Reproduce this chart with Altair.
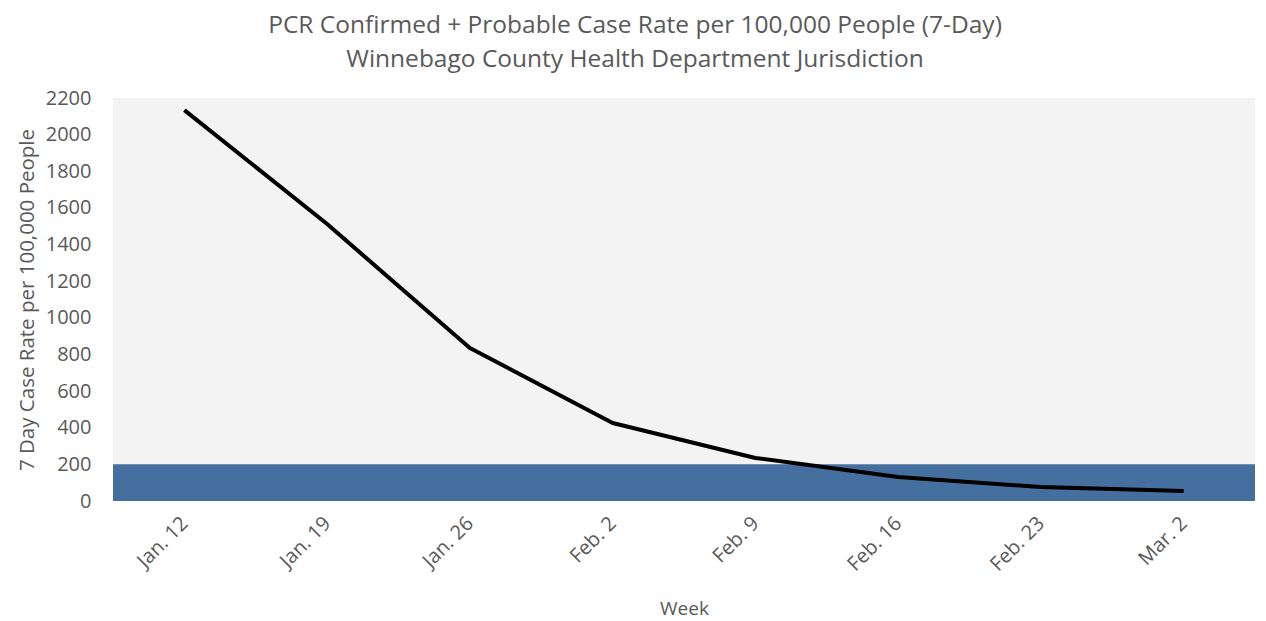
import altair as alt
import pandas as pd

weeks = ["Jan. 12", "Jan. 19", "Jan. 26", "Feb. 2", "Feb. 9", "Feb. 16", "Feb. 23", "Mar. 2"]
rates = [2134, 1512, 835, 426, 235, 131, 76, 55]
band_low = [0]
band_high = [200]
y_ticks = list(range(0, 2201, 200))

W, H = 1142, 403
FONT = "Open Sans"
GRAY = "#595959"

df = pd.DataFrame({"Week": weeks, "Rate": rates})
band_df = pd.DataFrame({"lo": band_low, "hi": band_high})

yscale = alt.Scale(domain=[0, 2200], nice=False)
yaxis = alt.Axis(values=y_ticks, format="d", labelOverlap=False, ticks=False,
                 domain=False, grid=False,
                 labelFontSize=20, titleFontSize=20.5, labelPadding=22, titlePadding=8,
                 labelFont=FONT, titleFont=FONT, labelColor=GRAY, titleColor=GRAY,
                 titleFontWeight="normal")
ytitle = "7 Day Case Rate per 100,000 People"

band = alt.Chart(band_df).mark_rect(color="#456F9F").encode(
    x=alt.value(0),
    x2=alt.value(W),
    y=alt.Y("lo:Q", scale=yscale, title=ytitle, axis=yaxis),
    y2="hi:Q",
)

line = alt.Chart(df).mark_line(color="black", strokeWidth=4, strokeJoin="round").encode(
    x=alt.X("Week:O", sort=weeks, title="Week",
            axis=alt.Axis(labelAngle=-45, labelAlign="right", labelBaseline="middle",
                          labelPadding=19, ticks=False, domain=False, labelOverlap=False,
                          labelFontSize=20, titleFontSize=19, titlePadding=25,
                          labelFont=FONT, titleFont=FONT, labelColor=GRAY, titleColor=GRAY,
                          titleFontWeight="normal")),
    y=alt.Y("Rate:Q", scale=yscale, title=ytitle, axis=yaxis),
)

chart = alt.layer(band, line).properties(
    width=W, height=H,
    autosize=alt.AutoSizeParams(type="none"),
    padding={"left": 105, "top": 90, "right": 3, "bottom": 120},
    title=alt.TitleParams(
        text=["PCR Confirmed + Probable Case Rate per 100,000 People (7-Day)",
              "Winnebago County Health Department Jurisdiction"],
        fontSize=24.5, font=FONT, color=GRAY, fontWeight="normal",
        anchor="middle", frame="group", dx=-49, offset=16, lineHeight=34,
    ),
).configure_view(fill="#F3F3F3", stroke=None).configure_axis(labelOverlap=False)

chart.save("out.html", embed_options={"renderer": "svg", "actions": False})
